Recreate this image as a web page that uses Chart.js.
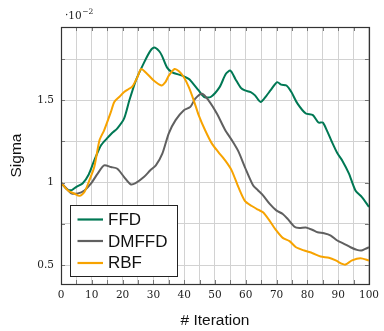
<!DOCTYPE html>
<html><head><meta charset="utf-8">
<script src="https://cdn.jsdelivr.net/npm/chart.js@4/dist/chart.umd.min.js"></script>
<style>html,body{margin:0;padding:0;background:#fff}#c{display:block}</style>
</head><body>
<canvas id="c" width="384" height="331"></canvas>
<script>
// ---- data (values in units of 10^-2) ----
const seriesNames = ['FFD', 'DMFFD', 'RBF'];
const ffdX = [0,2,3.5,5,7,9,10.8,13,15,16.5,18.3,20.5,22.2,24.3,27,29,30.3,31.8,32.8,34.4,36.1,39.3,41.5,42.5,44.7,46.5,48.6,51.5,53.5,55,56.6,58.4,59.7,61.6,63,64.8,66.8,68,70.2,71.5,73.2,74.8,76.8,79.5,81.8,83.6,85,86.5,87.9,89.7,91.3,93.5,95.6,97.7,100];
const ffdY = [1.0,0.96,0.955,0.975,0.995,1.05,1.135,1.227,1.27,1.30,1.33,1.39,1.50,1.62,1.73,1.80,1.82,1.80,1.77,1.70,1.67,1.65,1.63,1.61,1.56,1.52,1.52,1.58,1.66,1.68,1.63,1.575,1.56,1.55,1.53,1.49,1.53,1.56,1.61,1.595,1.59,1.55,1.48,1.42,1.41,1.365,1.365,1.31,1.25,1.18,1.135,1.055,0.953,0.913,0.853];
const dmffdX = [0,2,3.3,5.5,7.6,9.7,11.9,14,16.2,18.3,20.5,22.6,24.2,26.9,29,30.8,32.9,35,37.2,39.9,42,43.6,45.8,47.9,50.6,53.3,55.4,57.6,59.7,62.4,64,65.6,67.7,69.9,72,73.6,75.8,77.4,79.5,81.7,83.3,85.4,87.6,89.7,91.9,94,96.1,97.5,98.8,100];
const dmffdY = [1.0,0.96,0.935,0.935,0.953,0.994,1.055,1.105,1.095,1.085,1.034,0.99,0.997,1.034,1.075,1.105,1.176,1.30,1.38,1.44,1.46,1.51,1.54,1.50,1.42,1.32,1.26,1.19,1.095,0.983,0.953,0.923,0.873,0.832,0.81,0.78,0.733,0.725,0.728,0.713,0.699,0.693,0.679,0.649,0.629,0.608,0.592,0.588,0.598,0.608];
const rbfX = [0,2.25,4.4,6,7.6,9.2,10.8,12.5,14,16.2,17.3,18.9,20.5,22.1,23.2,24.8,26,28,30.1,32.6,33.9,35,36.9,38.3,39.9,41.5,43.1,44.7,46.8,49,51.1,53.3,55.4,57.6,59.7,61.8,64,65.6,67.7,69.9,72,74.2,76.3,79,81.7,84.3,87,89.2,91.3,92.4,94.5,97.2,100];
const rbfY = [1.0,0.953,0.933,0.92,0.943,1.014,1.095,1.257,1.318,1.43,1.49,1.52,1.55,1.57,1.585,1.64,1.69,1.66,1.62,1.59,1.61,1.65,1.69,1.676,1.64,1.58,1.50,1.41,1.318,1.237,1.186,1.135,1.075,0.973,0.89,0.86,0.836,0.82,0.77,0.71,0.665,0.645,0.608,0.588,0.572,0.552,0.544,0.528,0.507,0.503,0.528,0.542,0.528];
const xTicks = [0,5,10,15,20,25,30,35,40,45,50,55,60,65,70,75,80,85,90,95,100];
const xLabelTicks = [0,10,20,30,40,50,60,70,80,90,100];
const yTicks = [0.5,0.75,1,1.25,1.5,1.75];
const yLabelTicks = [0.5,1,1.5];
const colors = ['rgb(0,120,84)', 'rgb(96,96,96)', 'rgb(247,163,0)'];

const pts = (xs, ys) => xs.map((x, i) => ({x, y: ys[i]}));
const seriesData = [pts(ffdX, ffdY), pts(dmffdX, dmffdY), pts(rbfX, rbfY)];

const extras = {
  id: 'extras',
  afterDraw(chart) {
    const {ctx, chartArea: a, scales} = chart;
    ctx.save();
    // tick marks inside the frame
    ctx.strokeStyle = '#777';
    ctx.lineWidth = 1;
    ctx.beginPath();
    xTicks.forEach(v => {
      const px = Math.round(scales.x.getPixelForValue(v)) + 0.5;
      ctx.moveTo(px, a.bottom); ctx.lineTo(px, a.bottom - 4);
      ctx.moveTo(px, a.top); ctx.lineTo(px, a.top + 4);
    });
    yTicks.forEach(v => {
      const py = Math.round(scales.y.getPixelForValue(v)) + 0.5;
      ctx.moveTo(a.left, py); ctx.lineTo(a.left + 4, py);
      ctx.moveTo(a.right, py); ctx.lineTo(a.right - 4, py);
    });
    ctx.stroke();
    // frame
    ctx.strokeStyle = '#333';
    ctx.lineWidth = 1.2;
    ctx.strokeRect(Math.round(a.left) + 0.5, Math.round(a.top) + 0.5, Math.round(a.right - a.left), Math.round(a.bottom - a.top));
    // exponent label
    ctx.fillStyle = '#222';
    ctx.textBaseline = 'alphabetic';
    ctx.textAlign = 'left';
    ctx.font = '10.5px "DejaVu Serif"';
    ctx.fillText('\u00b710', 65, 19);
    const w = ctx.measureText('\u00b710').width;
    ctx.font = '7.5px "DejaVu Serif"';
    ctx.fillText('\u22122', 65 + w + 0.5, 14);
    // legend
    const lx = 70.5, ly = 205.5, lw = 107, lh = 71;
    ctx.fillStyle = '#fff';
    ctx.fillRect(lx, ly, lw, lh);
    ctx.strokeStyle = '#222';
    ctx.lineWidth = 1;
    ctx.strokeRect(lx, ly, lw, lh);
    const rows = [219.5, 241, 263];
    const bases = [225, 246.5, 268];
    chart.data.datasets.forEach((ds, i) => {
      ctx.strokeStyle = ds.borderColor;
      ctx.lineWidth = 2.2;
      ctx.beginPath();
      ctx.moveTo(77.5, rows[i]); ctx.lineTo(103, rows[i]);
      ctx.stroke();
      ctx.fillStyle = '#111';
      ctx.font = '17px "Liberation Sans", Arial, sans-serif';
      ctx.fillText(ds.label, 108, bases[i]);
    });
    ctx.restore();
  }
};

new Chart(document.getElementById('c'), {
  type: 'line',
  data: {
    datasets: seriesNames.map((name, i) => ({
      label: name,
      data: seriesData[i],
      borderColor: colors[i],
      backgroundColor: colors[i],
      borderWidth: 2,
      pointRadius: 0,
      tension: 0.25,
      fill: false,
      order: 2 - i
    }))
  },
  options: {
    responsive: false,
    animation: false,
    layout: {padding: {left: 0, top: 27, right: 12, bottom: 0}},
    plugins: {legend: {display: false}, tooltip: {enabled: false}},
    scales: {
      x: {
        type: 'linear', min: 0, max: 100,
        afterBuildTicks: s => { s.ticks = xTicks.map(v => ({value: v})); },
        afterFit: s => { s.height = 47; },
        grid: {color: '#d2d2d2', lineWidth: 1, drawTicks: false},
        border: {display: false},
        ticks: {
          autoSkip: false, maxRotation: 0, padding: 5,
          color: '#222', font: {family: 'DejaVu Serif', size: 10.5},
          callback: v => xLabelTicks.includes(v) ? String(v) : ''
        },
        title: {display: true, text: '# Iteration', color: '#111', padding: {top: 0, bottom: 1},
          font: {family: 'Liberation Sans', size: 15.5}}
      },
      y: {
        type: 'linear', min: 0.385, max: 1.945,
        afterBuildTicks: s => { s.ticks = yTicks.map(v => ({value: v})); },
        afterFit: s => { s.width = 61; },
        grid: {color: '#d2d2d2', lineWidth: 1, drawTicks: false},
        border: {display: false},
        ticks: {
          autoSkip: false, padding: 7,
          color: '#222', font: {family: 'DejaVu Serif', size: 10.5},
          callback: v => yLabelTicks.includes(v) ? String(v) : ''
        },
        title: {display: true, text: 'Sigma', color: '#111', padding: {top: 7, bottom: 0},
          font: {family: 'Liberation Sans', size: 15.5}}
      }
    }
  },
  plugins: [extras]
});
</script>
</body></html>
